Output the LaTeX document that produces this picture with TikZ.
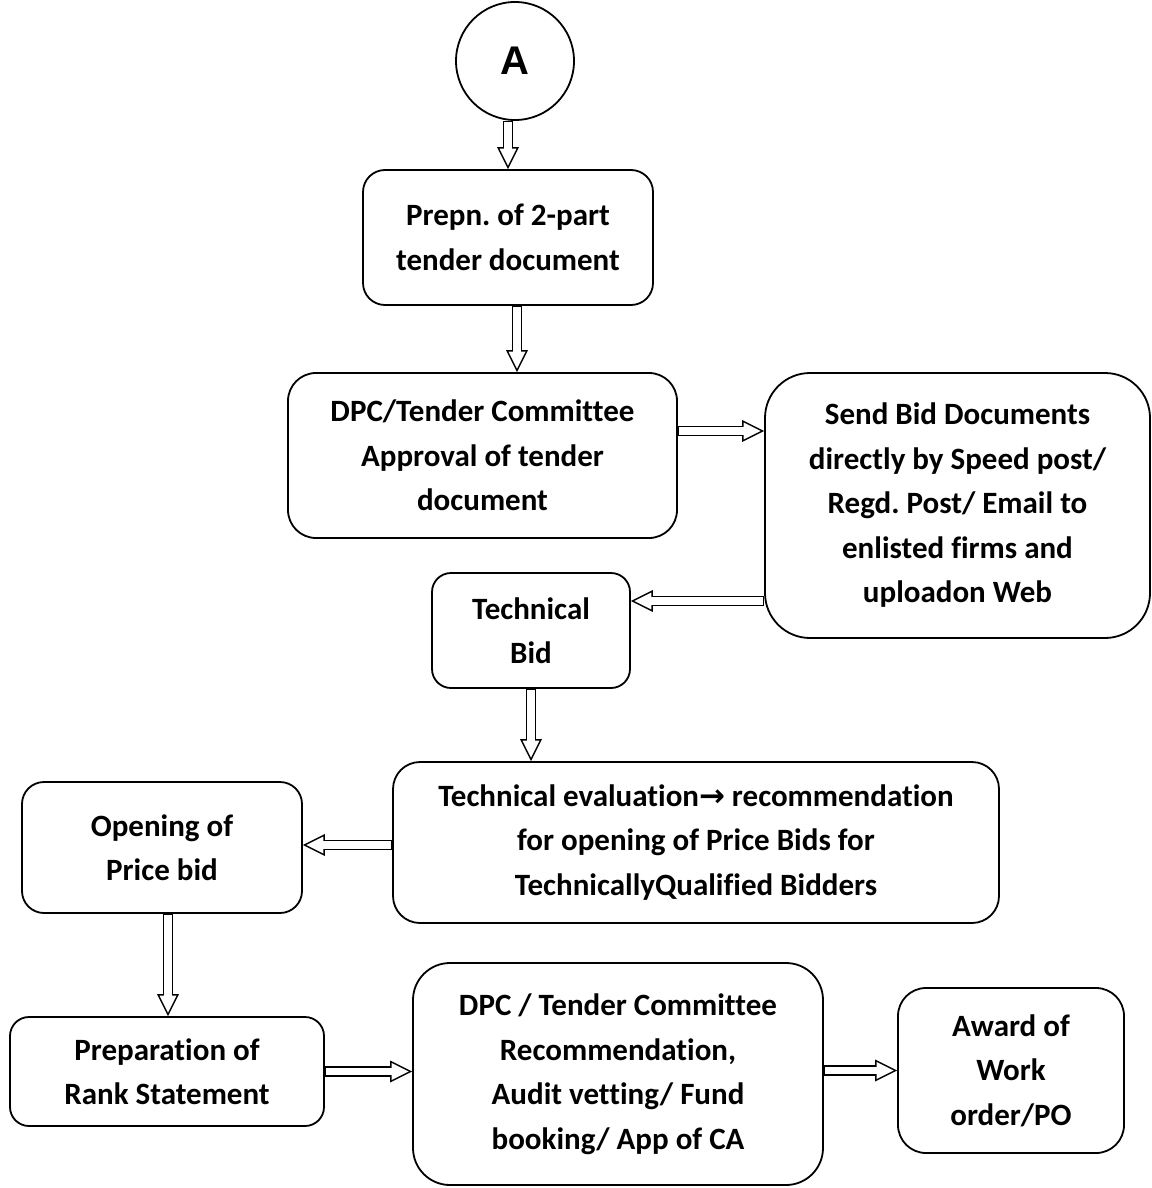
\documentclass[tikz,border=0pt]{standalone}
\usepackage{fontspec}
\setmainfont{Carlito}[Ligatures=NoCommon]
\newfontfamily\arialfont{Liberation Sans}
\newfontfamily\arrowfont{DejaVu Sans}
\usetikzlibrary{arrows.meta}
\frenchspacing

\begin{document}
\begin{tikzpicture}[x=1pt,y=-1pt]

\tikzset{box/.style = {draw, line width=1.8pt, align=center, inner sep=0pt, font=\fontsize{31}{44.5}\selectfont\bfseries}}
\tikzset{fat/.style = {line width=10.5pt, -{Triangle[length=22pt,width=22pt,line width=0pt]},
  postaction={draw=white, line width=7.5pt, -{Triangle[length=17pt,width=17pt,line width=0pt]}, shorten >=3.4pt, shorten <=1.2pt}}}

\useasboundingbox (0,0) rectangle (1151,1188);

%start
\node[draw, circle, line width=1.8pt, minimum size=118pt, font=\arialfont\bfseries\fontsize{40}{44}\selectfont] (A) at (515,61) {A};

%boxes
\node[box, rounded corners=22pt, minimum width=290pt, minimum height=135pt] (b1) at (508,237.5) {Prepn. of 2-part\\tender document};
\node[box, rounded corners=28pt, minimum width=389pt, minimum height=165pt] (b2) at (482.5,455.5) {DPC/Tender Committee\\Approval of tender\\document};
\node[box, rounded corners=45pt, minimum width=385pt, minimum height=265pt] (b3) at (957.5,505.5) {Send Bid Documents\\directly by Speed post/\\Regd. Post/ Email to\\enlisted firms and\\uploadon Web};
\node[box, rounded corners=19pt, minimum width=198pt, minimum height=115pt] (b4) at (531,630.5) {Technical\\Bid};
\node[box, rounded corners=27pt, minimum width=606pt, minimum height=161pt] (b5) at (696,842.5) {Technical evaluation{\arrowfont →} recommendation\\for opening of Price Bids for\\TechnicallyQualified Bidders};
\node[box, rounded corners=22pt, minimum width=280pt, minimum height=131pt] (b6) at (162,847.5) {Opening of\\Price bid};
\node[box, rounded corners=19pt, minimum width=314pt, minimum height=109pt] (b7) at (167,1071.5) {Preparation of\\Rank Statement};
\node[box, rounded corners=37pt, minimum width=410pt, minimum height=222pt] (b8) at (618,1074) {DPC / Tender Committee\\Recommendation,\\Audit vetting/ Fund\\booking/ App of CA};
\node[box, rounded corners=28pt, minimum width=226pt, minimum height=165pt] (b9) at (1011,1070.5) {Award of\\Work\\order/PO};

%arrow points
\coordinate (p1) at ([xshift=9pt]b1.south);
\coordinate (p3) at ([yshift=24.5pt]b2.east);
\coordinate (p4) at ([yshift=29.5pt]b4.east);
\coordinate (p6) at ([yshift=2.5pt]b6.east);
\coordinate (p7) at ([xshift=6pt]b6.south);

%vertical arrows
\draw[fat] (A.south -| b1.north) -- (b1.north);
\draw[fat] (p1) -- (p1 |- b2.north);
\draw[fat] (b4.south) -- (b4.south |- b5.north);
\draw[fat] (p7) -- (p7 |- b7.north);

%horizontal arrows
\draw[fat] (p3) -- (p3 -| b3.west);
\draw[fat] (p4 -| b3.west) -- (p4);
\draw[fat] (p6 -| b5.west) -- (p6);
\draw[fat] (b7.east) -- (b7.east -| b8.west);
\draw[fat] (b9.west -| b8.east) -- (b9.west);

\end{tikzpicture}
\end{document}
